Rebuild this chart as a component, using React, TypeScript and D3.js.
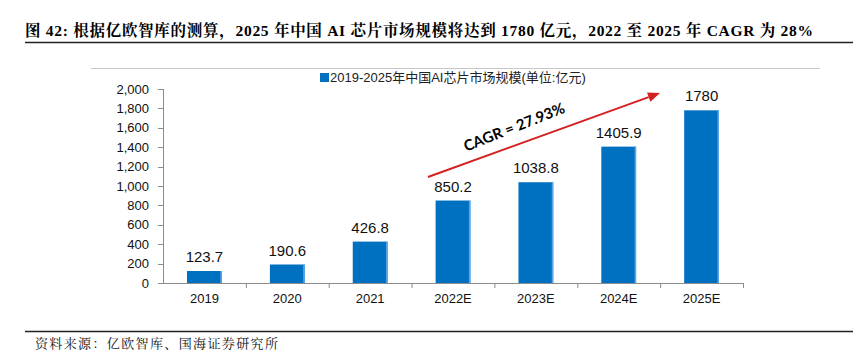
import React from "react";
import * as d3 from "d3";

const categories = ["2019", "2020", "2021", "2022E", "2023E", "2024E", "2025E"];
const values = [123.7, 190.6, 426.8, 850.2, 1038.8, 1405.9, 1780];
const yTicks = [0, 200, 400, 600, 800, 1000, 1200, 1400, 1600, 1800, 2000];
const titleText = "图 42:  根据亿欧智库的测算，2025 年中国 AI 芯片市场规模将达到 1780 亿元，2022 至 2025 年 CAGR 为 28%";
const legendText = "2019-2025年中国AI芯片市场规模(单位:亿元)";
const sourceText = "资料来源：亿欧智库、国海证券研究所";
const cagrText = "CAGR = 27.93%";

const W = 857;
const H = 354;

export default function App() {
  const x = d3.scaleBand<string>().domain(categories).range([163, 743]).paddingInner(0.58).paddingOuter(0.29);
  const xb = d3.scaleBand<string>().domain(categories).range([163, 743]);
  const y = d3.scaleLinear().domain([0, 2000]).range([283, 89]);
  const fmt = d3.format(",");
  const sans = "'Liberation Sans', Arial, 'Noto Sans CJK SC', sans-serif";
  const serif = "'Liberation Serif', 'Times New Roman', 'Noto Serif CJK SC', 'Noto Sans CJK SC', serif";
  const blue = "#0070C0";
  const axisColor = "#8c8c8c";

  const ax1 = 428, ay1 = 177, ax2 = 660, ay2 = 93;
  const ang = Math.atan2(ay2 - ay1, ax2 - ax1);
  const hl = 12, hw = 5;
  const bx = ax2 - hl * Math.cos(ang), by = ay2 - hl * Math.sin(ang);
  const head = [
    [ax2, ay2],
    [bx + hw * Math.sin(ang), by - hw * Math.cos(ang)],
    [bx - hw * Math.sin(ang), by + hw * Math.cos(ang)],
  ];

  return (
    <svg width={W} height={H} style={{ position: "absolute", left: 0, top: 0, background: "#fff" }}>
      <text x={25} y={36} fontFamily={serif} fontWeight="bold" fontSize={15.5} fill="#000" textLength={788} lengthAdjust="spacing">
        {titleText}
      </text>
      <line x1={25} x2={853} y1={42.5} y2={42.5} stroke="#222" strokeWidth={1.3} />
      <line x1={91} x2={820} y1={68.5} y2={68.5} stroke="#c8c8c8" strokeWidth={1} />

      {/* legend */}
      <rect x={320} y={73} width={9} height={9} fill={blue} />
      <text x={330} y={82} fontFamily={sans} fontSize={13} fill="#222">
        {legendText}
      </text>

      {/* y axis */}
      <line x1={163.5} x2={163.5} y1={y(2000)} y2={y(0)} stroke={axisColor} />
      {yTicks.map((t) => (
        <g key={t}>
          <line x1={158} x2={163.5} y1={Math.round(y(t)) + 0.5} y2={Math.round(y(t)) + 0.5} stroke={axisColor} />
          <text x={149} y={y(t) + 4.5} textAnchor="end" fontFamily={sans} fontSize={13} fill="#111">
            {fmt(t)}
          </text>
        </g>
      ))}

      {/* bars */}
      {categories.map((c, i) => (
        <g key={c}>
          <rect x={x(c)} y={y(values[i])} width={x.bandwidth()} height={y(0) - y(values[i])} fill={blue} />
          <rect x={(x(c) as number) + x.bandwidth() - 1.5} y={y(values[i])} width={1.5} height={y(0) - y(values[i])} fill="#5ea5e8" />
          <text
            x={(x(c) as number) + x.bandwidth() / 2}
            y={y(values[i]) - 9}
            textAnchor="middle"
            fontFamily={sans}
            fontSize={15}
            fill="#111"
          >
            {String(values[i])}
          </text>
          <text
            x={(xb(c) as number) + xb.bandwidth() / 2}
            y={303}
            textAnchor="middle"
            fontFamily={sans}
            fontSize={13}
            fill="#111"
          >
            {c}
          </text>
        </g>
      ))}

      {/* x axis */}
      <line x1={163} x2={743} y1={283.5} y2={283.5} stroke={axisColor} />
      {categories.map((c) => (
        <line key={c} x1={(xb(c) as number) + xb.bandwidth() + 0.5} x2={(xb(c) as number) + xb.bandwidth() + 0.5} y1={283} y2={288} stroke={axisColor} />
      ))}

      {/* CAGR arrow */}
      <line x1={ax1} y1={ay1} x2={bx} y2={by} stroke="#d42020" strokeWidth={2} />
      <polygon points={head.map((p) => p.join(",")).join(" ")} fill="#d42020" />
      <text
        transform={`translate(516,132) rotate(-21.5)`}
        textAnchor="middle"
        fontFamily="Lato, 'Open Sans', sans-serif"
        fontWeight="bold"
        fontSize={15}
        fill="#000"
      >
        {cagrText}
      </text>

      <line x1={25} x2={853} y1={331.5} y2={331.5} stroke="#222" strokeWidth={1.3} />
      <text x={35} y={348} fontFamily={serif} fontSize={13} fill="#111" textLength={243} lengthAdjust="spacing">
        {sourceText}
      </text>
    </svg>
  );
}
